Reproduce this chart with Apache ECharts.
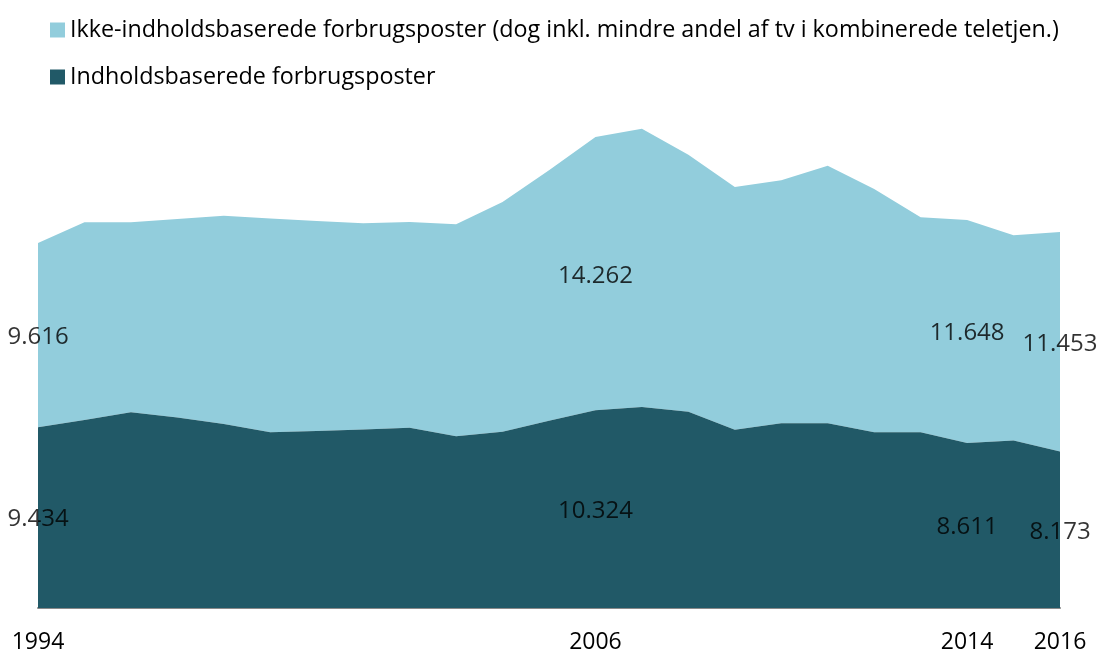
<!DOCTYPE html>
<html><head><meta charset="utf-8">
<script src="https://cdn.jsdelivr.net/npm/echarts@6/dist/echarts.min.js"></script>
<style>html,body{margin:0;padding:0;background:#fff}#c{width:1102px;height:655px}</style>
</head><body><div id="c"></div>
<script>
const years = ['1994','1995','1996','1997','1998','1999','2000','2001','2002','2003','2004','2005','2006','2007','2008','2009','2010','2011','2012','2013','2014','2015','2016'];
const indhold = [9.434,9.82,10.22,9.95,9.60,9.17,9.24,9.32,9.41,8.97,9.20,9.78,10.324,10.50,10.24,9.31,9.64,9.64,9.18,9.17,8.611,8.745,8.173];
const ikkeIndhold = [9.616,10.32,9.92,10.36,10.88,11.16,10.97,10.77,10.74,11.06,12.00,13.07,14.262,14.52,13.42,12.67,12.69,13.45,12.69,11.23,11.648,10.72,11.453];
const labelYears = ['1994','2006','2014','2016'];
const nameIkke = 'Ikke-indholdsbaserede forbrugsposter (dog inkl. mindre andel af tv i kombinerede teletjen.)';
const nameInd = 'Indholdsbaserede forbrugsposter';

const fmt = v => v.toFixed(3);
const font = 'Open Sans';
const labelPtsDark = labelYears.map(y => { const i = years.indexOf(y); return {value:[y, indhold[i]/2], raw: indhold[i]}; });
const labelPtsLight = labelYears.map(y => { const i = years.indexOf(y); return {value:[y, indhold[i] + ikkeIndhold[i]/2], raw: ikkeIndhold[i]}; });

const chart = echarts.init(document.getElementById('c'), null, {renderer:'canvas'});
chart.setOption({
  animation:false,
  color:['#215967','#92CDDC'],
  legend:{
    data:[nameIkke, nameInd],
    orient:'vertical', left:50, top:17, itemWidth:15, itemHeight:15, itemGap:21,
    icon:'rect', padding:0,
    textStyle:{fontFamily:font, fontSize:23.3, lineHeight:26, color:'#000'}
  },
  grid:{left:38, right:42, top:110, bottom:47},
  xAxis:{
    type:'category', data:years, boundaryGap:false,
    axisLine:{show:true, lineStyle:{color:'#898989', width:2}},
    axisTick:{show:false},
    axisLabel:{
      interval:(i,v)=>labelYears.includes(v),
      fontFamily:font, fontSize:23, color:'#000', margin:23
    },
    splitLine:{show:false}
  },
  yAxis:{type:'value', min:0, max:26, show:false, splitLine:{show:false}},
  series:[
    {name:nameInd, type:'line', stack:'t', data:indhold, showSymbol:false, symbol:'none',
     lineStyle:{width:0}, areaStyle:{color:'#215967', opacity:1}, z:2},
    {name:nameIkke, type:'line', stack:'t', data:ikkeIndhold, showSymbol:false, symbol:'none',
     lineStyle:{width:0}, areaStyle:{color:'#92CDDC', opacity:1}, z:1},
    {type:'scatter', data:labelPtsDark, symbolSize:0, silent:true, z:5,
     label:{show:true, position:'inside', offset:[0,2], formatter:p=>fmt(p.data.raw), fontFamily:font, fontSize:24, color:'#000'}},
    {type:'scatter', data:labelPtsLight, symbolSize:0, silent:true, z:5,
     label:{show:true, position:'inside', offset:[0,2], formatter:p=>fmt(p.data.raw), fontFamily:font, fontSize:24, color:'#000'}}
  ]
});
</script></body></html>
